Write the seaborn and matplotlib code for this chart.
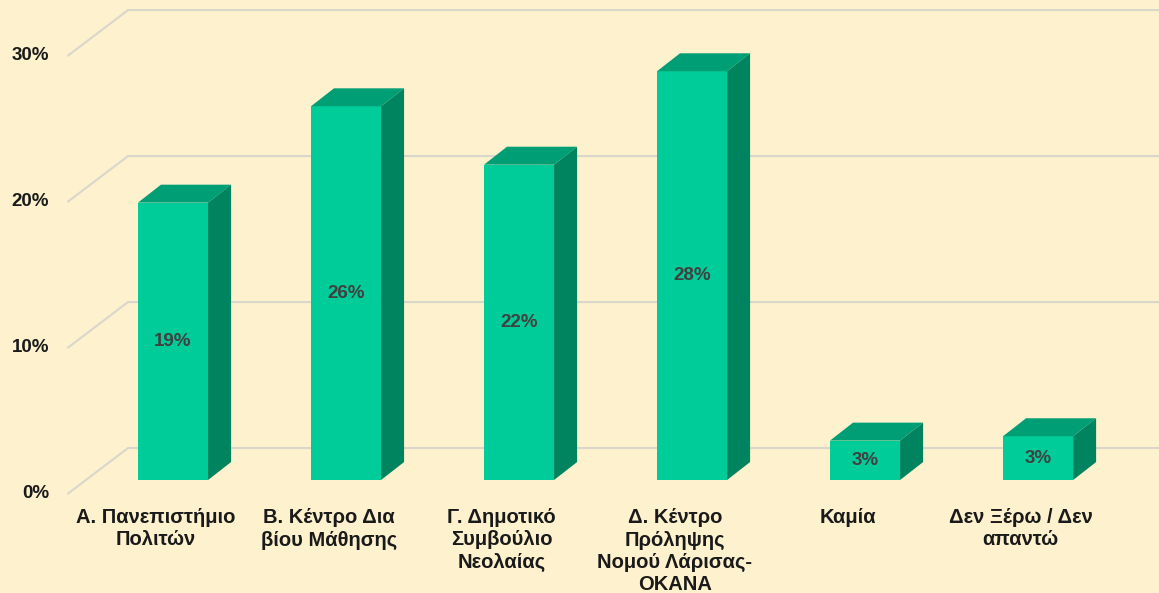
#3D-style bar chart of preferred organisations (Greek survey)

import seaborn as sns
from matplotlib import pyplot as plt
from matplotlib.patches import Polygon
import pandas as pd

#data
categories = ["Α. Πανεπιστήμιο\nΠολιτών", "Β. Κέντρο Δια\nβίου Μάθησης",
              "Γ. Δημοτικό\nΣυμβούλιο\nΝεολαίας", "Δ. Κέντρο\nΠρόληψης\nΝομού Λάρισας-\nΟΚΑΝΑ",
              "Καμία", "Δεν Ξέρω / Δεν\nαπαντώ"]
values = [19.0, 25.6, 21.6, 28.0, 2.7, 3.0]
value_labels = ["19%", "26%", "22%", "28%", "3%", "3%"]
grid_values = [0, 10, 20, 30]
grid_labels = ["0%", "10%", "20%", "30%"]

df = pd.DataFrame({"cat": categories, "val": values})

bg = "#FDF1CE"
front = "#00CC99"
top = "#009E74"
side = "#00845F"

sns.set_style("white")
plt.rcParams['font.family'] = ['Liberation Sans', 'DejaVu Sans']

fig = plt.figure(figsize=(11.59, 5.93), dpi=100)
fig.patch.set_facecolor(bg)
ax = fig.add_axes([0, 0, 1, 1])
ax.set_facecolor(bg)

#depth offset of the fake 3d
dx = 0.133
dy = 1.23

#gridlines: back wall and left wall diagonals
for g, gl in zip(grid_values, grid_labels):
    ax.plot([-0.607, -0.26, 6.0], [g - 0.93, g + 2.19, g + 2.19],
            color="#D9D6CC", lw=1.5, zorder=0, solid_joinstyle="miter")
    ax.text(-0.717, g - 0.9, gl, ha="right", va="center",
            fontsize=13.5, fontweight="bold", color="#1A1A1A")

sns.barplot(data=df, x="cat", y="val", color=front, width=0.405,
            saturation=1, ax=ax, zorder=2)

for p, lab in zip(ax.patches, value_labels):
    x0 = p.get_x()
    w = p.get_width()
    h = p.get_height()
    p.set_edgecolor("none")
    ax.add_patch(Polygon([(x0, h), (x0 + w, h), (x0 + w + dx, h + dy), (x0 + dx, h + dy)],
                         closed=True, facecolor=top, edgecolor="none", zorder=2))
    ax.add_patch(Polygon([(x0 + w, 0), (x0 + w + dx, dy), (x0 + w + dx, h + dy), (x0 + w, h)],
                         closed=True, facecolor=side, edgecolor="none", zorder=2))
    ax.text(x0 + w / 2, h / 2, lab, ha="center", va="center", fontsize=13.5,
            fontweight="bold", color="#404040", zorder=3)

#category labels under the bars
for i, c in enumerate(categories):
    ax.text(i - 0.1, -1.95, c, ha="center", va="top", fontsize=14.5,
            fontweight="bold", color="#1A1A1A", linespacing=1.2)

ax.set_xlim(-1.0, 5.699)
ax.set_ylim(-7.74, 32.88)
ax.set_xlabel("")
ax.set_ylabel("")
ax.set_xticks([])
ax.set_yticks([])
sns.despine(ax=ax, left=True, bottom=True)

plt.savefig("out.png", dpi=100, facecolor=bg)
